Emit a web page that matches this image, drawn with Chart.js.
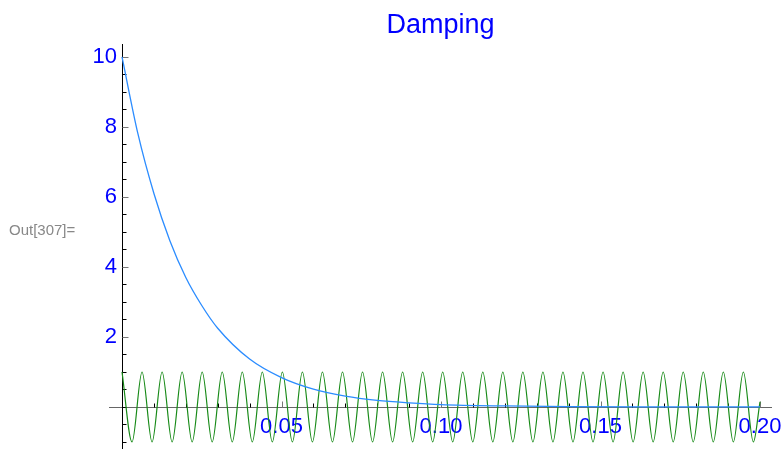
<!DOCTYPE html>
<html>
<head>
<meta charset="utf-8">
<script src="https://cdn.jsdelivr.net/npm/chart.js@4/dist/chart.umd.min.js"></script>
<style>
  html, body { margin: 0; padding: 0; background: #fff; }
  #wrap { position: relative; width: 783px; height: 449px; }
</style>
</head>
<body>
<div id="wrap"><canvas id="plot" width="783" height="449"></canvas></div>
<script>
// amplitude curve
var decayT = [0, 0.005, 0.01, 0.015, 0.02, 0.025, 0.03, 0.04, 0.05, 0.06, 0.07, 0.08, 0.09, 0.10, 0.12, 0.14, 0.17, 0.20];
var decayV = [10, 7.8, 6.1, 4.75, 3.7, 2.9, 2.25, 1.37, 0.84, 0.51, 0.31, 0.19, 0.12, 0.07, 0.03, 0.01, 0.003, 0.001];

// oscillation: peaks and troughs
var oscT = [0, 0.00314, 0.00628, 0.00942, 0.01257, 0.01571, 0.01885, 0.02199, 0.02513, 0.02827,
    0.03142, 0.03456, 0.03770, 0.04084, 0.04398, 0.04712, 0.05027, 0.05341, 0.05655, 0.05969,
    0.06283, 0.06597, 0.06912, 0.07226, 0.07540, 0.07854, 0.08168, 0.08482, 0.08796, 0.09111,
    0.09425, 0.09739, 0.10053, 0.10367, 0.10681, 0.10996, 0.11310, 0.11624, 0.11938, 0.12252,
    0.12566, 0.12881, 0.13195, 0.13509, 0.13823, 0.14137, 0.14451, 0.14765, 0.15080, 0.15394,
    0.15708, 0.16022, 0.16336, 0.16650, 0.16965, 0.17279, 0.17593, 0.17907, 0.18221, 0.18535,
    0.18850, 0.19164, 0.19478, 0.19792, 0.2];
var oscV = [1, -1, 1, -1, 1, -1, 1, -1, 1, -1,
    1, -1, 1, -1, 1, -1, 1, -1, 1, -1,
    1, -1, 1, -1, 1, -1, 1, -1, 1, -1,
    1, -1, 1, -1, 1, -1, 1, -1, 1, -1,
    1, -1, 1, -1, 1, -1, 1, -1, 1, -1,
    1, -1, 1, -1, 1, -1, 1, -1, 1, -1,
    1, -1, 1, -1, 0.15];

var xMajor = [0.05, 0.10, 0.15, 0.20];
var yMajor = [2, 4, 6, 8, 10];

function pts(t, v) {
    var out = [];
    for (var i = 0; i < t.length; i++) out.push({ x: t[i], y: v[i] });
    return out;
}

// axes through the origin with inward ticks, like the original
var axesPlugin = {
    id: "axes",
    beforeDatasetsDraw: function (chart) {
        var ctx = chart.ctx, a = chart.chartArea;
        var xs = chart.scales.x, ys = chart.scales.y;
        var x0 = Math.round(xs.getPixelForValue(0)) + 0.5;
        var y0 = Math.round(ys.getPixelForValue(0)) + 0.5;
        ctx.save();
        ctx.lineWidth = 1;
        // x axis
        ctx.strokeStyle = "#666";
        ctx.beginPath(); ctx.moveTo(a.left, y0); ctx.lineTo(a.right, y0); ctx.stroke();
        // y axis
        ctx.strokeStyle = "#000";
        ctx.beginPath(); ctx.moveTo(x0, a.top); ctx.lineTo(x0, a.bottom); ctx.stroke();
        // y ticks
        for (var v = -1; v <= 10.01; v += 0.5) {
            var major = yMajor.indexOf(Math.round(v * 10) / 10) >= 0;
            var py = Math.round(ys.getPixelForValue(v)) + 0.5;
            ctx.strokeStyle = major ? "#777" : "#000";
            ctx.beginPath(); ctx.moveTo(x0, py); ctx.lineTo(x0 + (major ? 6 : 4), py); ctx.stroke();
        }
        // x ticks
        for (var k = 1; k <= 20; k++) {
            var t = k / 100;
            var isMaj = k % 5 == 0;
            var px = Math.round(xs.getPixelForValue(t)) + 0.5;
            ctx.strokeStyle = isMaj ? "#777" : "#000";
            ctx.beginPath(); ctx.moveTo(px, y0); ctx.lineTo(px, y0 - (isMaj ? 6 : 4)); ctx.stroke();
        }
        ctx.restore();
    },
    afterDraw: function (chart) {
        var ctx = chart.ctx;
        ctx.save();
        ctx.fillStyle = "#888";
        ctx.font = "15px 'Liberation Sans', Arial, sans-serif";
        ctx.textBaseline = "alphabetic";
        ctx.fillText("Out[307]=", 9, 235);
        ctx.restore();
    }
};

new Chart(document.getElementById("plot"), {
    type: "line",
    data: {
        datasets: [{
            label: "decay",
            data: pts(decayT, decayV),
            borderColor: "#2b8cff",
            borderWidth: 1.3,
            pointRadius: 0,
            cubicInterpolationMode: "monotone",
            fill: false
        }, {
            label: "oscillation",
            data: pts(oscT, oscV),
            borderColor: "#178a17",
            borderWidth: 1.2,
            pointRadius: 0,
            cubicInterpolationMode: "monotone",
            fill: false
        }]
    },
    options: {
        responsive: false,
        animation: false,
        layout: { padding: { left: 109, right: 11, top: 0, bottom: 0 } },
        plugins: {
            legend: { display: false },
            tooltip: { enabled: false },
            title: {
                display: true,
                text: "Damping",
                color: "#0000ff",
                font: { family: "'Liberation Sans', Arial, sans-serif", size: 27, weight: "normal" },
                padding: { top: 9, bottom: 2.6 }
            }
        },
        scales: {
            x: {
                type: "linear",
                min: -0.00408,
                max: 0.20376,
                position: { y: 0 },
                afterFit: function (s) {
                    s.height = 0;
                    s.paddingLeft = 0; s.paddingRight = 0;
                },
                grid: { display: false, drawTicks: false },
                border: { display: false },
                ticks: {
                    stepSize: 0.05,
                    includeBounds: false,
                    autoSkip: false,
                    maxRotation: 0,
                    padding: 7,
                    color: "#0000ff",
                    font: { family: "'Liberation Sans', Arial, sans-serif", size: 22 },
                    callback: function (v) {
                        var r = Math.round(v * 100) / 100;
                        return xMajor.indexOf(r) >= 0 ? r.toFixed(2) : "";
                    }
                }
            },
            y: {
                type: "linear",
                min: -1.2,
                max: 10.37,
                // labels sit a few px left of the axis line drawn at x = 0
                position: { x: -0.0016 },
                afterFit: function (s) {
                    s.width = 0;
                    s.paddingTop = 0; s.paddingBottom = 0;
                },
                grid: { display: false, drawTicks: false },
                border: { display: false },
                ticks: {
                    stepSize: 2,
                    includeBounds: false,
                    autoSkip: false,
                    padding: 0,
                    color: "#0000ff",
                    font: { family: "'Liberation Sans', Arial, sans-serif", size: 22 },
                    callback: function (v) {
                        return yMajor.indexOf(v) >= 0 ? String(v) : "";
                    }
                }
            }
        }
    },
    plugins: [axesPlugin]
});
</script>
</body>
</html>
